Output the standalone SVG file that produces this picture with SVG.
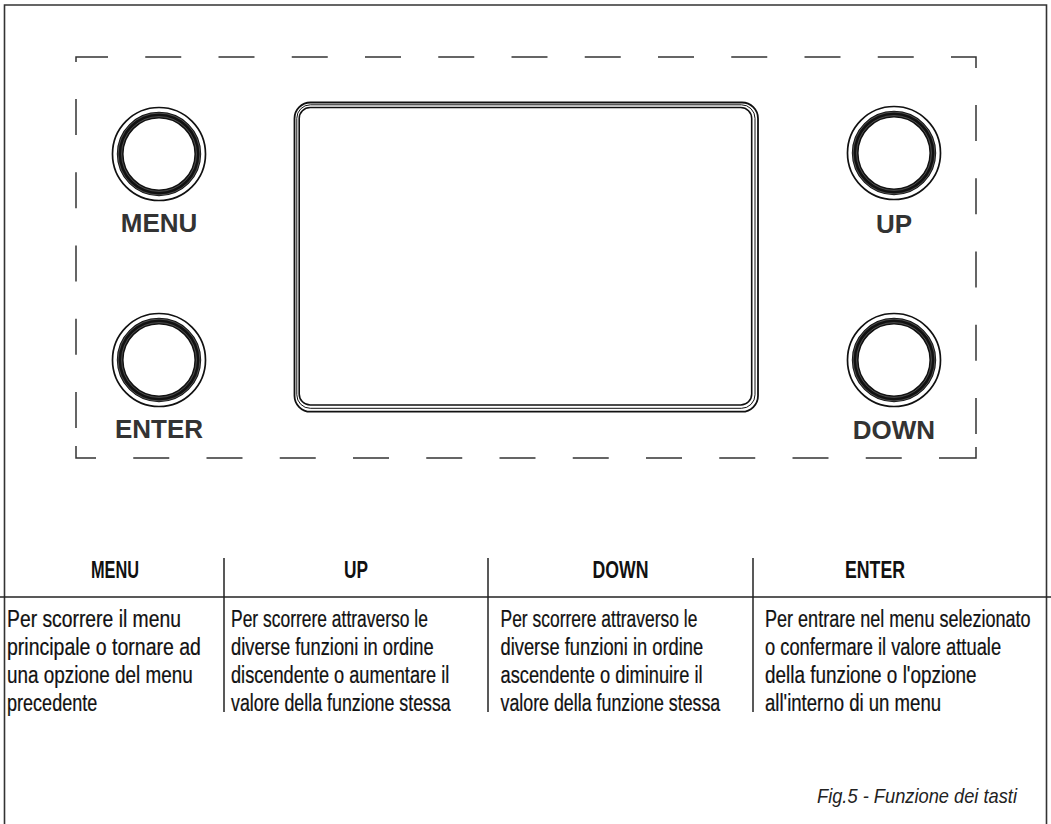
<svg xmlns="http://www.w3.org/2000/svg" width="1051" height="824" viewBox="0 0 1051 824">
  <style>
    .frame { fill: none; stroke: #333; stroke-width: 1.6; }
    .dash { fill: none; stroke: #333; stroke-width: 1.5; }
    .scr { fill: none; stroke: #111; }
    .ring-out { fill: #fff; stroke: #111; stroke-width: 1.7; }
    .ring-thick { fill: none; stroke: #111; stroke-width: 6.8; }
    .ring-hl { fill: none; stroke: #fff; stroke-width: 0.5; opacity: 0.5; }
    .blabel { font-family: "Liberation Sans", Arial, sans-serif; font-weight: bold; font-size: 26px; fill: #333; text-anchor: middle; }
    .thead { font-family: "Liberation Sans", Arial, sans-serif; font-weight: bold; font-size: 24px; fill: #111; text-anchor: middle; }
    .tbody { font-family: "Liberation Sans", Arial, sans-serif; font-size: 24px; fill: #111; stroke: #111; stroke-width: 0.25; }
    .tline { stroke: #222; stroke-width: 1.5; }
    .caption { font-family: "Liberation Sans", Arial, sans-serif; font-style: italic; font-size: 21px; fill: #222; }
  </style>
  <defs>
    <g id="knob">
      <circle class="ring-out" r="46.5"/>
      <circle class="ring-thick" r="38.8"/>
      <circle class="ring-hl" r="40.9"/>
      <circle class="ring-hl" r="37.4"/>
    </g>
  </defs>
  <rect width="1051" height="824" fill="#fff"/>

  <g id="frame">
    <path class="frame" d="M4.5,824 V5 H1046.5 V824"/>
  </g>

  <g id="panel-outline">
    <path class="dash" d="M76,62 V57 H108 M145.25,57 H181.25 M218.5,57 H254.5 M291.75,57 H327.75 M365,57 H401 M438.25,57 H474.25 M511.5,57 H547.5 M584.75,57 H620.75 M658,57 H694 M731.25,57 H767.25 M804.5,57 H840.5 M877.75,57 H913.75 M951,57 H976 V68
      M76,99 V135 M76,172.25 V208.25 M76,245.5 V281.5 M76,318.75 V354.75 M76,392 V428 M76,446 V458 H96
      M976,105 V141 M976,178.25 V214.25 M976,251.5 V287.5 M976,324.75 V360.75 M976,398 V434 M976,447 V458 H939
      M133.25,458 H169.25 M206.5,458 H242.5 M279.75,458 H315.75 M353,458 H389 M426.25,458 H462.25 M499.5,458 H535.5 M572.75,458 H608.75 M646,458 H682 M719.25,458 H755.25 M792.5,458 H828.5 M865.75,458 H901.75"/>
  </g>

  <g id="screen">
    <rect class="scr" x="294.5" y="102.5" width="463.5" height="309.2" rx="16" stroke-width="1.8"/>
    <rect class="scr" x="296.8" y="104.8" width="458.2" height="303.5" rx="13.5" stroke-width="1"/>
    <rect class="scr" x="299.2" y="107.5" width="452.5" height="297.5" rx="11" stroke-width="1.6"/>
  </g>

  <g id="btn-menu">
    <use href="#knob" x="159" y="154"/>
    <text class="blabel" x="159" y="232">MENU</text>
  </g>
  <g id="btn-enter">
    <use href="#knob" x="159" y="360"/>
    <text class="blabel" x="159" y="438">ENTER</text>
  </g>
  <g id="btn-up">
    <use href="#knob" x="894" y="153"/>
    <text class="blabel" x="894" y="233">UP</text>
  </g>
  <g id="btn-down">
    <use href="#knob" x="894" y="360"/>
    <text class="blabel" x="894" y="439">DOWN</text>
  </g>

  <g id="connectors">
    <line class="tline" x1="0" y1="597" x2="1051" y2="597" stroke-width="2"/>
    <line class="tline" x1="224" y1="558" x2="224" y2="712"/>
    <line class="tline" x1="488" y1="558" x2="488" y2="712"/>
    <line class="tline" x1="753" y1="558" x2="753" y2="712"/>
  </g>

  <g id="col-menu">
    <g transform="translate(115,0) scale(0.7,1)">
      <text class="thead" x="0" y="578" textLength="68.6" lengthAdjust="spacingAndGlyphs">MENU</text>
    </g>
    <g transform="translate(7,0) scale(0.74,1)">
      <text class="tbody" x="0" y="627" textLength="235" lengthAdjust="spacingAndGlyphs">Per scorrere il menu</text>
      <text class="tbody" x="0" y="655" textLength="262" lengthAdjust="spacingAndGlyphs">principale o tornare ad</text>
      <text class="tbody" x="0" y="683" textLength="251" lengthAdjust="spacingAndGlyphs">una opzione del menu</text>
      <text class="tbody" x="0" y="711" textLength="122" lengthAdjust="spacingAndGlyphs">precedente</text>
    </g>
  </g>
  <g id="col-up">
    <g transform="translate(356,0) scale(0.7,1)">
      <text class="thead" x="0" y="578" textLength="34.3" lengthAdjust="spacingAndGlyphs">UP</text>
    </g>
    <g transform="translate(231,0) scale(0.74,1)">
      <text class="tbody" x="0" y="627" textLength="266" lengthAdjust="spacingAndGlyphs">Per scorrere attraverso le</text>
      <text class="tbody" x="0" y="655" textLength="274" lengthAdjust="spacingAndGlyphs">diverse funzioni in ordine</text>
      <text class="tbody" x="0" y="683" textLength="295" lengthAdjust="spacingAndGlyphs">discendente o aumentare il</text>
      <text class="tbody" x="0" y="711" textLength="297" lengthAdjust="spacingAndGlyphs">valore della funzione stessa</text>
    </g>
  </g>
  <g id="col-down">
    <g transform="translate(620.5,0) scale(0.7,1)">
      <text class="thead" x="0" y="578" textLength="80" lengthAdjust="spacingAndGlyphs">DOWN</text>
    </g>
    <g transform="translate(500.5,0) scale(0.74,1)">
      <text class="tbody" x="0" y="627" textLength="266" lengthAdjust="spacingAndGlyphs">Per scorrere attraverso le</text>
      <text class="tbody" x="0" y="655" textLength="274" lengthAdjust="spacingAndGlyphs">diverse funzioni in ordine</text>
      <text class="tbody" x="0" y="683" textLength="273" lengthAdjust="spacingAndGlyphs">ascendente o diminuire il</text>
      <text class="tbody" x="0" y="711" textLength="297" lengthAdjust="spacingAndGlyphs">valore della funzione stessa</text>
    </g>
  </g>
  <g id="col-enter">
    <g transform="translate(875,0) scale(0.7,1)">
      <text class="thead" x="0" y="578" textLength="85.7" lengthAdjust="spacingAndGlyphs">ENTER</text>
    </g>
    <g transform="translate(765,0) scale(0.74,1)">
      <text class="tbody" x="0" y="627" textLength="359" lengthAdjust="spacingAndGlyphs">Per entrare nel menu selezionato</text>
      <text class="tbody" x="0" y="655" textLength="319" lengthAdjust="spacingAndGlyphs">o confermare il valore attuale</text>
      <text class="tbody" x="0" y="683" textLength="286" lengthAdjust="spacingAndGlyphs">della funzione o l'opzione</text>
      <text class="tbody" x="0" y="711" textLength="238" lengthAdjust="spacingAndGlyphs">all'interno di un menu</text>
    </g>
  </g>

  <g id="caption">
    <text class="caption" x="817" y="803" textLength="200" lengthAdjust="spacingAndGlyphs">Fig.5 - Funzione dei tasti</text>
  </g>
</svg>
